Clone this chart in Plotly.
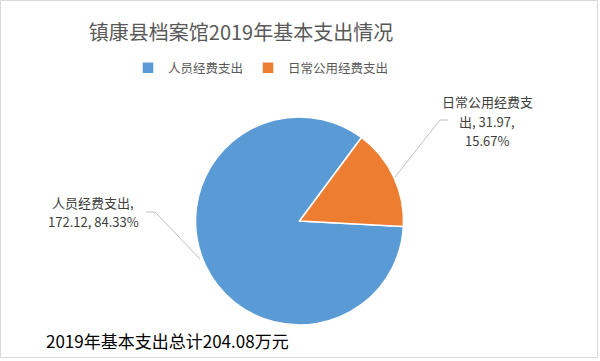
import plotly.graph_objects as go

W, H = 600, 361
title = "镇康县档案馆2019年基本支出情况"
labels = ["人员经费支出", "日常公用经费支出"]
values = [172.12, 31.97]
percents = [84.33, 15.67]
colors = ["#5B9BD5", "#ED7D31"]
total_text = "2019年基本支出总计204.08万元"

FONT = "Noto Sans CJK SC"

def px(x):
    return x / W

def py(y):
    return 1 - y / H

cx, cy, r = 299.5, 221, 104

fig = go.Figure()
fig.add_trace(go.Pie(
    labels=labels,
    values=values,
    marker=dict(colors=colors, line=dict(color="white", width=1.5)),
    sort=False,
    direction="clockwise",
    rotation=93,
    textinfo="none",
    hoverinfo="label+value+percent",
    domain=dict(x=[px(cx - r), px(cx + r)], y=[py(cy + r), py(cy - r)]),
))

# data label lines (each line a separate text so spacing matches the reference)
label_lines = [
    [f"{labels[0]},", f"{values[0]:.2f}, {percents[0]:.2f}%"],
    [labels[1][:7], f"{labels[1][7:]}, {values[1]:.2f},", f"{percents[1]:.2f}%"],
]
label_x = [93, 487]
label_y = [[202, 221], [102, 121, 140]]
annotations = []
for lines, x, ys in zip(label_lines, label_x, label_y):
    for t, y in zip(lines, ys):
        annotations.append(dict(
            text=t, x=px(x), y=py(y), xref="paper", yref="paper",
            xanchor="center", yanchor="middle", showarrow=False, align="center",
            font=dict(family=FONT, size=13, color="#404040"),
        ))
annotations.append(dict(
    text=total_text, x=px(167), y=py(340), xref="paper", yref="paper",
    xanchor="center", yanchor="middle", showarrow=False,
    font=dict(family=FONT, size=17, color="#000000"),
))

def path(pts):
    return "M" + " L".join(f"{px(x)},{py(y)}" for x, y in pts)

shapes = [
    dict(type="path", xref="paper", yref="paper",
         path=path([(146, 212), (155, 212), (200, 259)]),
         line=dict(color="#BFBFBF", width=1)),
    dict(type="path", xref="paper", yref="paper",
         path=path([(448, 120), (440, 120), (395, 177)]),
         line=dict(color="#BFBFBF", width=1)),
    dict(type="rect", xref="paper", yref="paper",
         x0=px(0.5), x1=px(597.5), y0=py(357.5), y1=py(0.5),
         line=dict(color="#D9D9D9", width=1)),
]

fig.update_layout(
    width=W, height=H,
    margin=dict(l=0, r=0, t=0, b=0),
    paper_bgcolor="white",
    plot_bgcolor="white",
    title=dict(text=title, x=px(241), xanchor="center", y=py(33), yanchor="middle",
               font=dict(family=FONT, size=20, color="#595959")),
    legend=dict(orientation="h", x=px(261), xanchor="center", y=py(68), yanchor="middle",
                font=dict(family=FONT, size=12.5, color="#595959"),
                itemwidth=30, traceorder="normal"),
    annotations=annotations,
    shapes=shapes,
    showlegend=True,
)

fig.write_html("out.html")
